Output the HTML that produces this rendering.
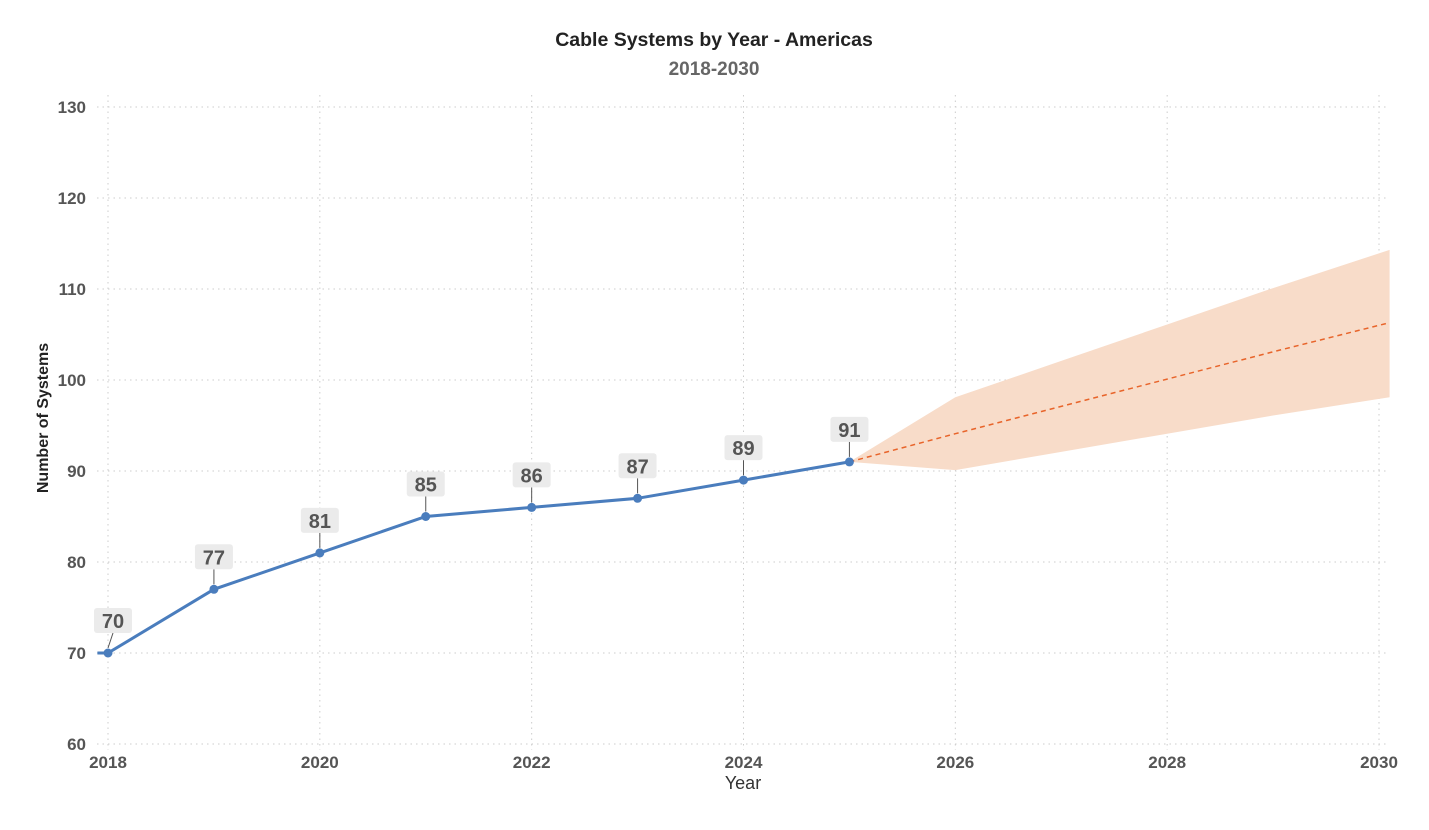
<!DOCTYPE html>
<html><head><meta charset="utf-8"><style>
body{margin:0;background:#fff;}
svg text{font-family:"Liberation Sans Narrow","Liberation Sans",sans-serif;font-weight:bold;}
</style></head><body>
<svg id="chart" width="1429" height="825" xmlns="http://www.w3.org/2000/svg">
<text x="714" y="46" text-anchor="middle" font-size="19.5" fill="#222">Cable Systems by Year - Americas</text>
<text x="714" y="75" text-anchor="middle" font-size="19" fill="#666">2018-2030</text>
<text transform="translate(48,418) rotate(-90)" text-anchor="middle" font-size="16" fill="#222">Number of Systems</text>
<text x="743" y="789" text-anchor="middle" font-size="18" fill="#333" style="font-weight:normal">Year</text>
<g id="grid"></g><g id="marks"></g><g id="labels"></g>
</svg>
<script>
const years=[2018,2019,2020,2021,2022,2023,2024,2025];
const values=[70,77,81,85,86,87,89,91];
const fcYears=[2025,2026,2027,2028,2029,2030.1];
const fcMean=[91,94.1,97.1,100.1,103.1,106.3];
const fcUpper=[91,98.1,102.1,106.1,110.1,114.3];
const fcLower=[91,90.1,92.1,94.1,96.1,98.1];
const xTicks=[2018,2020,2022,2024,2026,2028,2030];
const yTicks=[60,70,80,90,100,110,120,130];
const NS="http://www.w3.org/2000/svg";
const X=v=>108+(v-2018)*(1379-108)/12;
const Y=v=>744-(v-60)*(744-107)/70;
function mk(tag,attrs,parent){const e=document.createElementNS(NS,tag);for(const k in attrs)e.setAttribute(k,attrs[k]);parent.appendChild(e);return e;}
const grid=document.getElementById('grid'),marks=document.getElementById('marks'),labels=document.getElementById('labels');
yTicks.forEach(t=>{
  const l=mk('line',{x1:97,x2:1389,y1:Y(t),y2:Y(t),stroke:'#ccc','stroke-dasharray':'1.5 4'},grid);
  
  
  const tx=mk('text',{x:86,y:Y(t)+6,'text-anchor':'end','font-size':17,fill:'#555'},grid);
  tx.textContent=t;
  
  
});
xTicks.forEach(t=>{
  const l=mk('line',{x1:X(t),x2:X(t),y1:95,y2:750,stroke:'#ccc','stroke-dasharray':'1.5 4'},grid);
  
  
  const tx=mk('text',{x:X(t),y:768,'text-anchor':'middle','font-size':17,fill:'#555'},grid);
  tx.textContent=t;
  
  
});
let pts=fcYears.map((y,i)=>X(y)+','+Y(fcUpper[i])).concat(fcYears.slice().reverse().map((y,i)=>X(y)+','+Y(fcLower[fcYears.length-1-i])));
const band=mk('polygon',{points:pts.join(' '),fill:'#f8dcc9'},marks);


const fl=mk('polyline',{points:fcYears.map((y,i)=>X(y)+','+Y(fcMean[i])).join(' '),fill:'none',stroke:'#e8642a','stroke-width':1.5,'stroke-dasharray':'5 4'},marks);


const ln=mk('polyline',{points:[X(2017.9)+','+Y(values[0])].concat(years.map((y,i)=>X(y)+','+Y(values[i]))).join(' '),fill:'none',stroke:'#4a7dbd','stroke-width':3},marks);


years.forEach((y,i)=>{
  const c=mk('circle',{cx:X(y),cy:Y(values[i]),r:4.5,fill:'#4a7dbd'},marks);
  
  
  const cx=X(y)+(i===0?5:0),cy=Y(values[i]);
  const t=mk('line',{x1:X(y),y1:cy-5,x2:cx,y2:cy-20,stroke:'#555','stroke-width':1},labels);
  
  
  const r=mk('rect',{x:cx-19,y:cy-45,width:38,height:25,rx:3,fill:'#ebebeb'},labels);
  
  
  const tx=mk('text',{x:cx,y:cy-25,'text-anchor':'middle','font-size':20,fill:'#555'},labels);
  tx.textContent=values[i];
  
  
});
</script>
</body></html>
